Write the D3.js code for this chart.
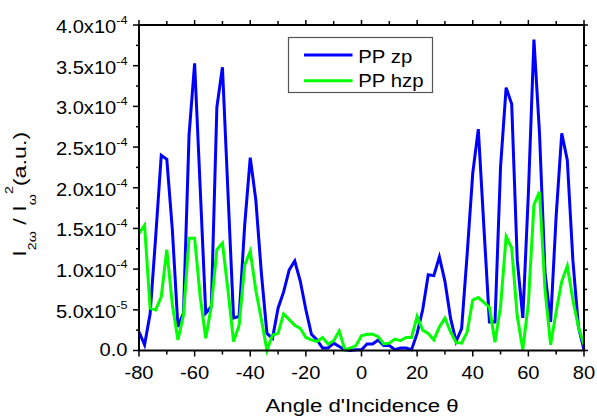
<!DOCTYPE html>
<html>
<head>
<meta charset="utf-8">
<script src="https://cdn.jsdelivr.net/npm/d3@7"></script>
<style>
  html, body { margin: 0; padding: 0; background: #fff; }
  svg { display: block; }
  text { font-family: "Liberation Sans", Arial, sans-serif; fill: #000; }
</style>
</head>
<body>
<svg id="chart" width="597" height="417"></svg>
<script>
// ---- data (values in units of 1e-4) ----
const angles = [-80,-78,-76,-74,-72,-70,-68,-66,-64,-62,-60,-58,-56,-54,-52,-50,-48,-46,-44,-42,-40,-38,-36,-34,-32,-30,-28,-26,-24,-22,-20,-18,-16,-14,-12,-10,-8,-6,-4,-2,0,2,4,6,8,10,12,14,16,18,20,22,24,26,28,30,32,34,36,38,40,42,44,46,48,50,52,54,56,58,60,62,64,66,68,70,72,74,76,78,80];
const ppZp = [0.23,0.07,0.45,1.40,2.40,2.35,1.48,0.29,0.46,2.65,3.53,2.00,0.46,0.54,2.99,3.48,1.93,0.40,0.42,1.54,2.37,1.85,0.95,0.21,0.15,0.52,0.72,0.99,1.10,0.85,0.50,0.20,0.13,0.03,0.03,0.09,0.05,0.01,0.00,0.01,0.01,0.08,0.08,0.13,0.06,0.06,0.01,0.03,0.03,0.01,0.21,0.50,0.93,0.92,1.15,0.85,0.40,0.11,0.27,1.19,2.18,2.72,1.52,0.35,0.35,2.26,3.23,3.03,1.11,0.40,1.93,3.82,2.67,0.95,0.35,1.66,2.67,2.34,1.11,0.29,0.01];
const ppHzp = [1.44,1.54,0.52,0.50,0.66,1.24,0.56,0.13,0.44,1.38,1.38,0.66,0.15,0.54,1.24,1.32,0.74,0.11,0.31,1.05,1.22,0.74,0.38,0.00,0.19,0.21,0.45,0.38,0.31,0.27,0.16,0.13,0.11,0.16,0.08,0.12,0.24,0.01,0.03,0.06,0.18,0.20,0.20,0.17,0.08,0.09,0.14,0.12,0.16,0.16,0.42,0.25,0.21,0.13,0.29,0.40,0.23,0.10,0.09,0.23,0.62,0.65,0.59,0.53,0.10,0.54,1.40,1.26,0.42,0.01,0.58,1.79,1.95,0.74,0.07,0.48,0.85,1.04,0.62,0.29,0.07];
const unit = 1e-4;
const seriesNames = ["PP zp", "PP hzp"];
const seriesColors = ["#0000ff", "#00ff00"];
const xTicks = [-80,-60,-40,-20,0,20,40,60,80];
const xTickLabels = ["-80","-60","-40","-20","0","20","40","60","80"];
const xMinor = [-70,-50,-30,-10,10,30,50,70];
const yTicks = [0,0.5e-4,1e-4,1.5e-4,2e-4,2.5e-4,3e-4,3.5e-4,4e-4];
const yTickMant = ["0.0","5.0x10","1.0x10","1.5x10","2.0x10","2.5x10","3.0x10","3.5x10","4.0x10"];
const yTickExp = ["","-5","-4","-4","-4","-4","-4","-4","-4"];
const yMinor = [0.25e-4,0.75e-4,1.25e-4,1.75e-4,2.25e-4,2.75e-4,3.25e-4,3.75e-4];

const SX = 1.15; // horizontal stretch of the original raster text

const svg = d3.select("#chart");
const x = d3.scaleLinear().domain([-80, 80]).range([139, 584]);
const y = d3.scaleLinear().domain([0, 4e-4]).range([350.5, 25]);

// ---- ticks (outward on all four sides) ----
const tk = svg.append("g").attr("stroke", "#000").attr("stroke-width", 1.5);
xTicks.forEach(v => {
  tk.append("line").attr("x1", x(v)).attr("x2", x(v)).attr("y1", y(0)).attr("y2", y(0) + 6);
  tk.append("line").attr("x1", x(v)).attr("x2", x(v)).attr("y1", y(4e-4)).attr("y2", y(4e-4) - 5);
});
xMinor.forEach(v => {
  tk.append("line").attr("x1", x(v)).attr("x2", x(v)).attr("y1", y(0)).attr("y2", y(0) + 4);
  tk.append("line").attr("x1", x(v)).attr("x2", x(v)).attr("y1", y(4e-4)).attr("y2", y(4e-4) - 4);
});
yTicks.forEach(v => {
  tk.append("line").attr("y1", y(v)).attr("y2", y(v)).attr("x1", x(-80)).attr("x2", x(-80) - 6);
  tk.append("line").attr("y1", y(v)).attr("y2", y(v)).attr("x1", x(80)).attr("x2", x(80) + 4);
});
yMinor.forEach(v => {
  tk.append("line").attr("y1", y(v)).attr("y2", y(v)).attr("x1", x(-80)).attr("x2", x(-80) - 3);
  tk.append("line").attr("y1", y(v)).attr("y2", y(v)).attr("x1", x(80)).attr("x2", x(80) + 3);
});

// ---- series ----
const line = d3.line().x((d, i) => x(angles[i])).y(d => y(d * unit));
[ppZp, ppHzp].forEach((s, k) => {
  svg.append("path").datum(s).attr("d", line)
    .attr("fill", "none").attr("stroke", seriesColors[k])
    .attr("stroke-width", 3).attr("stroke-linejoin", "miter");
});

// ---- frame ----
svg.append("rect").attr("x", x(-80)).attr("y", y(4e-4))
  .attr("width", x(80) - x(-80)).attr("height", y(0) - y(4e-4))
  .attr("fill", "none").attr("stroke", "#000").attr("stroke-width", 2);

// ---- tick labels ----
function stext(px, py, anchor, size, sx) {
  return svg.append("text")
    .attr("transform", `translate(${px},${py}) scale(${sx || SX},1)`)
    .attr("text-anchor", anchor).attr("font-size", size);
}
xTicks.forEach((v, i) => {
  stext(x(v), 379, "middle", 17.5).text(xTickLabels[i]);
});
yTicks.forEach((v, i) => {
  if (yTickExp[i] === "") {
    stext(127.5, y(v) + 5.5, "end", 17.5).text(yTickMant[i]);
  } else {
    const t = stext(127.5, y(v) + 8, "end", 17.5);
    t.append("tspan").text(yTickMant[i]);
    t.append("tspan").attr("font-size", 11).attr("dy", -9).text(yTickExp[i]);
  }
});

// ---- axis titles ----
stext(362, 412, "middle", 18.5, 1.2).text("Angle d'Incidence \u03b8");

const yt = svg.append("text").attr("font-size", 18).attr("text-anchor", "start");
yt.append("tspan").text("I");
yt.append("tspan").attr("font-size", 11).attr("dy", 10).text("2\u03c9");
yt.append("tspan").attr("dy", -10).text(" / I");
yt.append("tspan").attr("font-size", 11).attr("dy", 10).text("\u03c9");
yt.append("tspan").attr("font-size", 11).attr("dy", -23).text("2");
yt.append("tspan").attr("dy", 13).text("(a.u.)");
const bw = yt.node().getBBox().width;
yt.attr("transform", `translate(26,256.7) rotate(-90) scale(${125 / bw},1)`);

// ---- legend ----
const lg = svg.append("g");
lg.append("rect").attr("x", 288.5).attr("y", 37.5).attr("width", 144).attr("height", 55)
  .attr("fill", "#fff").attr("stroke", "#555").attr("stroke-width", 1.2);
seriesNames.forEach((n, k) => {
  const ly = 55 + k * 25.7;
  lg.append("line").attr("x1", 304).attr("x2", 352.5).attr("y1", ly).attr("y2", ly)
    .attr("stroke", seriesColors[k]).attr("stroke-width", 3);
  stext(358.3, 63.3 + k * 23.4, "start", 17.7).text(n);
});
</script>
</body>
</html>
